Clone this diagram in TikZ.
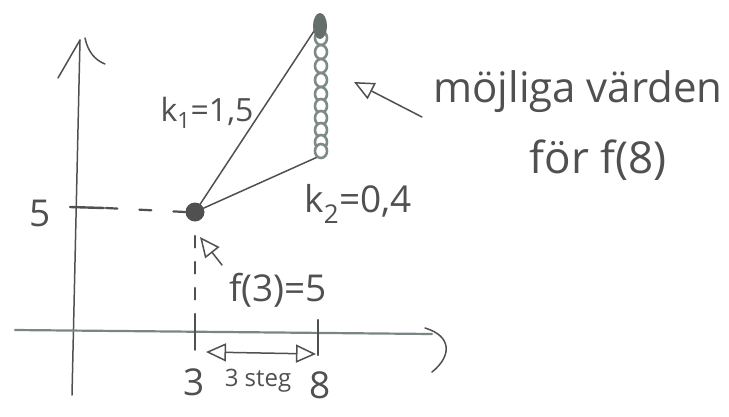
\documentclass[tikz,border=0pt]{standalone}
\usepackage{fontspec}
\setmainfont{Open Sans}
\usetikzlibrary{arrows.meta,shapes.geometric}
\definecolor{pen}{HTML}{505050}
\definecolor{penlight}{HTML}{7A8585}
\definecolor{beadcol}{HTML}{7E8A86}
\tikzset{bigtip/.tip={Triangle[open,length=20pt,width=18pt,line width=1.5pt]}}
\begin{document}
\begin{tikzpicture}[x=1pt,y=-1pt,
  penline/.style={draw=pen,line width=1.5pt,line cap=round},
  hand/.style={text=pen,inner sep=1pt,font=\fontsize{37}{42}\selectfont},
  handsmall/.style={text=pen,inner sep=1pt,font=\fontsize{24}{28}\selectfont},
  opentip/.style={-{bigtip}},
  bead/.style={draw=beadcol,line width=2.6pt,fill=white,ellipse,minimum width=12pt,minimum height=14pt,inner sep=0pt}]
\useasboundingbox (0,0) rectangle (729,416);
% axes
\coordinate (ytop) at (80,40);
\coordinate (ybot) at (72,395);
\draw[penline] (ybot) -- (ytop);
\draw[penline] (58,78) -- (ytop);
\draw[penline] (85,38) .. controls (88,52) and (95,60) .. (105,64);
\coordinate (xl) at (15,330);
\coordinate (xr) at (432,334);
\draw[draw=penlight,line width=2.2pt,line cap=round] (xl) -- (xr);
\draw[penline] (425,328) .. controls (452,336) and (452,356) .. (432,372);
% ticks
\draw[penline,line width=2.4pt] (70,207) -- (104,208);
\draw[penline] (195,318) -- (195,350);
\draw[penline,line width=2.4pt] (318,320) -- (318,355);
\node[hand] (l5) at (40,213) {5};
\node[hand] (l3) at (194,382) {3};
\node[hand] (l8) at (320,385) {8};
\node[handsmall] (steg) at (258,381) {3 steg};
% point
\node[circle,fill=pen,minimum size=19pt,inner sep=0pt] (p) at (195,212) {};
\draw[penline,line width=2.2pt,dash pattern=on 12pt off 22pt] (p.west) -- (106,208);
\draw[penline,dash pattern=on 12pt off 14pt] (p.south) ++(0,14) -- (195,318);
% lines
\coordinate (top) at (320,22);
\coordinate (bot) at (322,155);
\draw[penline] (p.center) -- (top);
\draw[penline] (p.center) -- (bot);
% beads
\foreach \yy [count=\i] in {38,52,66,80,94,106,118,130,142,151}
  \node[bead] (bead\i) at (321,\yy) {};
\node[ellipse,fill=beadcol!80!black,minimum width=14pt,minimum height=26pt,inner sep=0pt] (blob) at (320,26) {};
% labels
\node[hand,font=\fontsize{32}{36}\selectfont] (k1) at (207,113) {k\textsubscript{1}=1,5};
\node[hand] (k2) at (358,204) {k\textsubscript{2}=0,4};
\node[hand] (f3) at (278,290) {f(3)=5};
\coordinate (f3tail) at (222,265);
\draw[penline,opentip] (f3tail) -- (200,237);
\node[hand,font=\fontsize{42}{46}\selectfont] (moj) at (578,92) {möjliga värden};
\node[hand,font=\fontsize{44}{48}\selectfont] (for) at (598,160) {för f(8)};
\coordinate (mojtail) at (422,117);
\draw[penline,opentip] (mojtail) -- (354,82);
% step arrow
\coordinate (sl) at (206,352);
\coordinate (sr) at (316,354);
\draw[penline,{bigtip}-{bigtip}] (sl) -- (sr);
\end{tikzpicture}
\end{document}
